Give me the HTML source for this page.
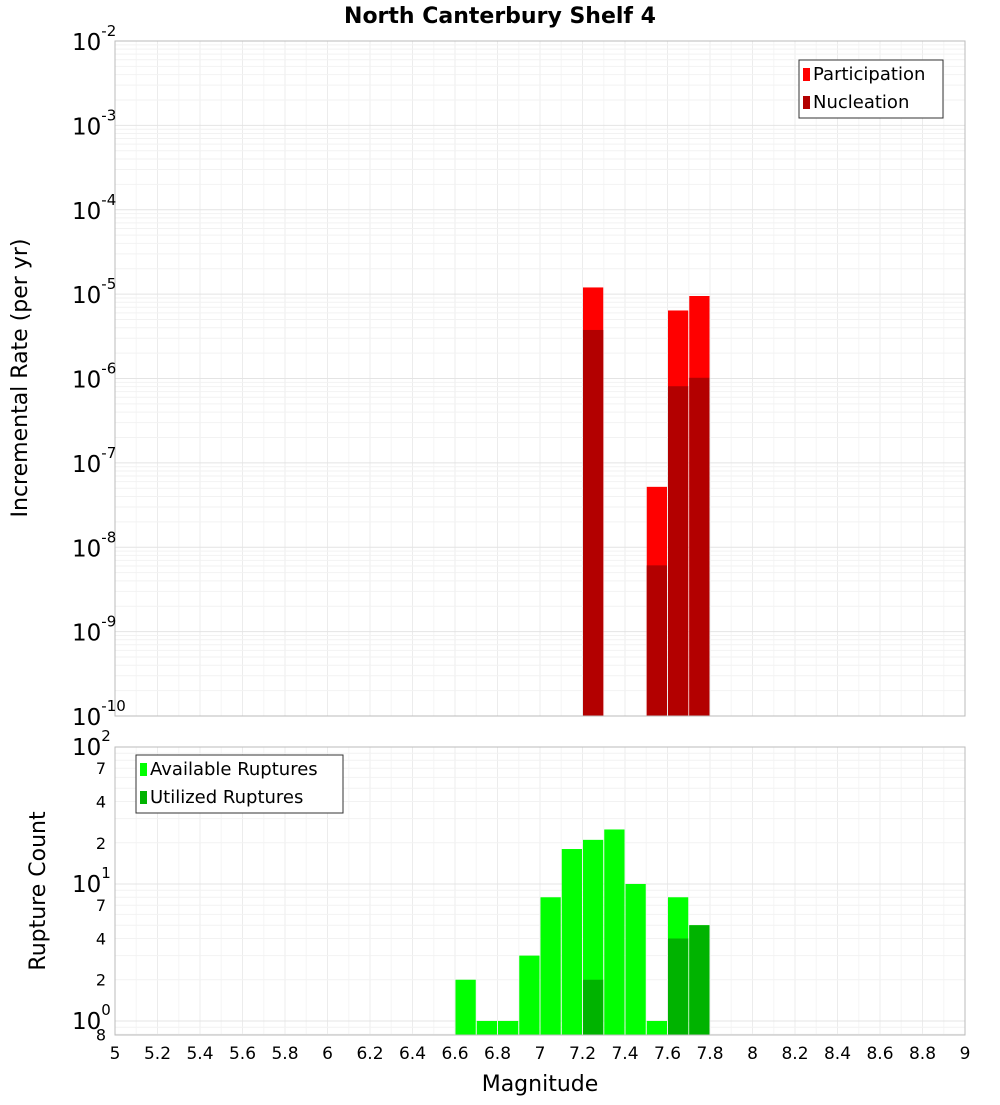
<!DOCTYPE html>
<html><head><meta charset="utf-8"><style>
body{margin:0;background:#fff}
svg{font-family:"DejaVu Sans","Liberation Sans",sans-serif}
</style></head><body>
<svg id="c" width="1000" height="1100"></svg>
<script>
const mags=[6.65,6.75,6.85,6.95,7.05,7.15,7.25,7.35,7.45,7.55,7.65,7.75];
const available=[2,1,1,3,8,18,21,25,10,1,8,5];
const utilizedMags=[7.25,7.65,7.75];
const utilized=[2,4,5];
const rateMags=[7.25,7.55,7.65,7.75];
const participation=[1.2e-5,5.2e-8,6.4e-6,9.5e-6];
const nucleation=[3.76e-6,6.1e-9,8.1e-7,1.02e-6];
const xTicks=["5","5.2","5.4","5.6","5.8","6","6.2","6.4","6.6","6.8","7","7.2","7.4","7.6","7.8","8","8.2","8.4","8.6","8.8","9"];

const NS="http://www.w3.org/2000/svg";
const svg=document.getElementById('c');
function el(t,a,p){const e=document.createElementNS(NS,t);for(const k in a)e.setAttribute(k,a[k]);(p||svg).appendChild(e);return e;}
const X0=115,X1=965;
const x=m=>X0+(m-5)/4*(X1-X0);
const T0=41,T1=716;
const yTop=v=>T0+(-2-Math.log10(v))/8*(T1-T0);
const B0=747,B1=1035,bMax=100,bMin=0.79;
const yBot=v=>B0+(Math.log10(bMax)-Math.log10(v))/(Math.log10(bMax)-Math.log10(bMin))*(B1-B0);

let t=el('text',{x:500,y:23,'text-anchor':'middle','font-size':22,'font-weight':'bold'});t.textContent='North Canterbury Shelf 4';


function panel(y0,y1,name){
  const g=el('g',{});
  el('rect',{x:X0,y:y0,width:X1-X0,height:y1-y0,fill:'#fff'},g);
  for(let i=1;i<40;i++){const xx=x(5+i*0.1);el('line',{x1:xx,x2:xx,y1:y0,y2:y1,stroke:i%2?'#f6f6f6':'#ececec','stroke-width':1},g);}
  return g;
}
const gt=panel(T0,T1,'rate-plot');
for(let d=-10;d<-2;d++){for(let k=1;k<10;k++){const yy=yTop(k*Math.pow(10,d));el('line',{x1:X0,x2:X1,y1:yy,y2:yy,stroke:k==1?'#e4e4e4':'#f2f2f2'},gt);}}
rateMags.forEach((m,i)=>{
  let r=el('rect',{x:x(m-0.05)+0.5,y:yTop(participation[i]),width:x(m+0.05)-x(m-0.05)-1,height:T1-yTop(participation[i]),fill:'#ff0000'},gt);
  
  r=el('rect',{x:x(m-0.05)+0.5,y:yTop(nucleation[i]),width:x(m+0.05)-x(m-0.05)-1,height:T1-yTop(nucleation[i]),fill:'#b30000'},gt);
  
});
el('rect',{x:X0,y:T0,width:X1-X0,height:T1-T0,fill:'none',stroke:'#bbb'},gt);
for(let d=-10;d<=-2;d++){
  const yy=yTop(Math.pow(10,d));
  const tx=el('text',{x:72,y:yy+9,'font-size':23},gt);tx.textContent='10';
  const s=el('tspan',{dy:-14,'font-size':15},tx);s.textContent=String(d);
}
const gb=panel(B0,B1,'count-plot');
[0.8,0.9,1,2,3,4,5,6,7,8,9,10,20,30,40,50,60,70,80,90,100].forEach(v=>{const yy=yBot(v);el('line',{x1:X0,x2:X1,y1:yy,y2:yy,stroke:(v==1||v==10||v==100)?'#e4e4e4':'#f2f2f2'},gb);});
mags.forEach((m,i)=>{const r=el('rect',{x:x(m-0.05)+0.5,y:yBot(available[i]),width:x(m+0.05)-x(m-0.05)-1,height:B1-yBot(available[i]),fill:'#00ff00'},gb);
  });
utilizedMags.forEach((m,i)=>{const r=el('rect',{x:x(m-0.05)+0.5,y:yBot(utilized[i]),width:x(m+0.05)-x(m-0.05)-1,height:B1-yBot(utilized[i]),fill:'#00b300'},gb);
  });
el('rect',{x:X0,y:B0,width:X1-X0,height:B1-B0,fill:'none',stroke:'#bbb'},gb);
[[100,'2'],[10,'1'],[1,'0']].forEach(([v,e])=>{const yy=yBot(v);const tx=el('text',{x:72,y:yy+8,'font-size':23},gb);tx.textContent='10';const s=el('tspan',{dy:-14,'font-size':15},tx);s.textContent=e;});
[[70,'7'],[40,'4'],[20,'2'],[7,'7'],[4,'4'],[2,'2'],[0.8,'8']].forEach(([v,l])=>{const tx=el('text',{x:106,y:yBot(v)+6,'font-size':16,'text-anchor':'end'},gb);tx.textContent=l;});
xTicks.forEach(l=>{const tx=el('text',{x:x(parseFloat(l)),y:1059,'font-size':17,'text-anchor':'middle'});tx.textContent=l;
  });
t=el('text',{x:540,y:1091,'font-size':22,'text-anchor':'middle'});t.textContent='Magnitude';
t=el('text',{x:0,y:0,'font-size':22,'text-anchor':'middle',transform:'translate(27,378) rotate(-90)'});t.textContent='Incremental Rate (per yr)';
t=el('text',{x:0,y:0,'font-size':22,'text-anchor':'middle',transform:'translate(45,891) rotate(-90)'});t.textContent='Rupture Count';
function legend(x0,y0,w,items,name){
  const g=el('g',{});
  el('rect',{x:x0,y:y0,width:w,height:58,fill:'#fff',stroke:'#333'},g);
  items.forEach(([c,l],i)=>{el('rect',{x:x0+4,y:y0+8+i*28,width:7,height:13,fill:c},g);
    const tx=el('text',{x:x0+14,y:y0+20+i*28,'font-size':18},g);tx.textContent=l;});
}
legend(799,60,144,[['#ff0000','Participation'],['#b30000','Nucleation']],'rate-legend');
legend(136,755,207,[['#00ff00','Available Ruptures'],['#00b300','Utilized Ruptures']],'count-legend');
</script>
</body></html>
